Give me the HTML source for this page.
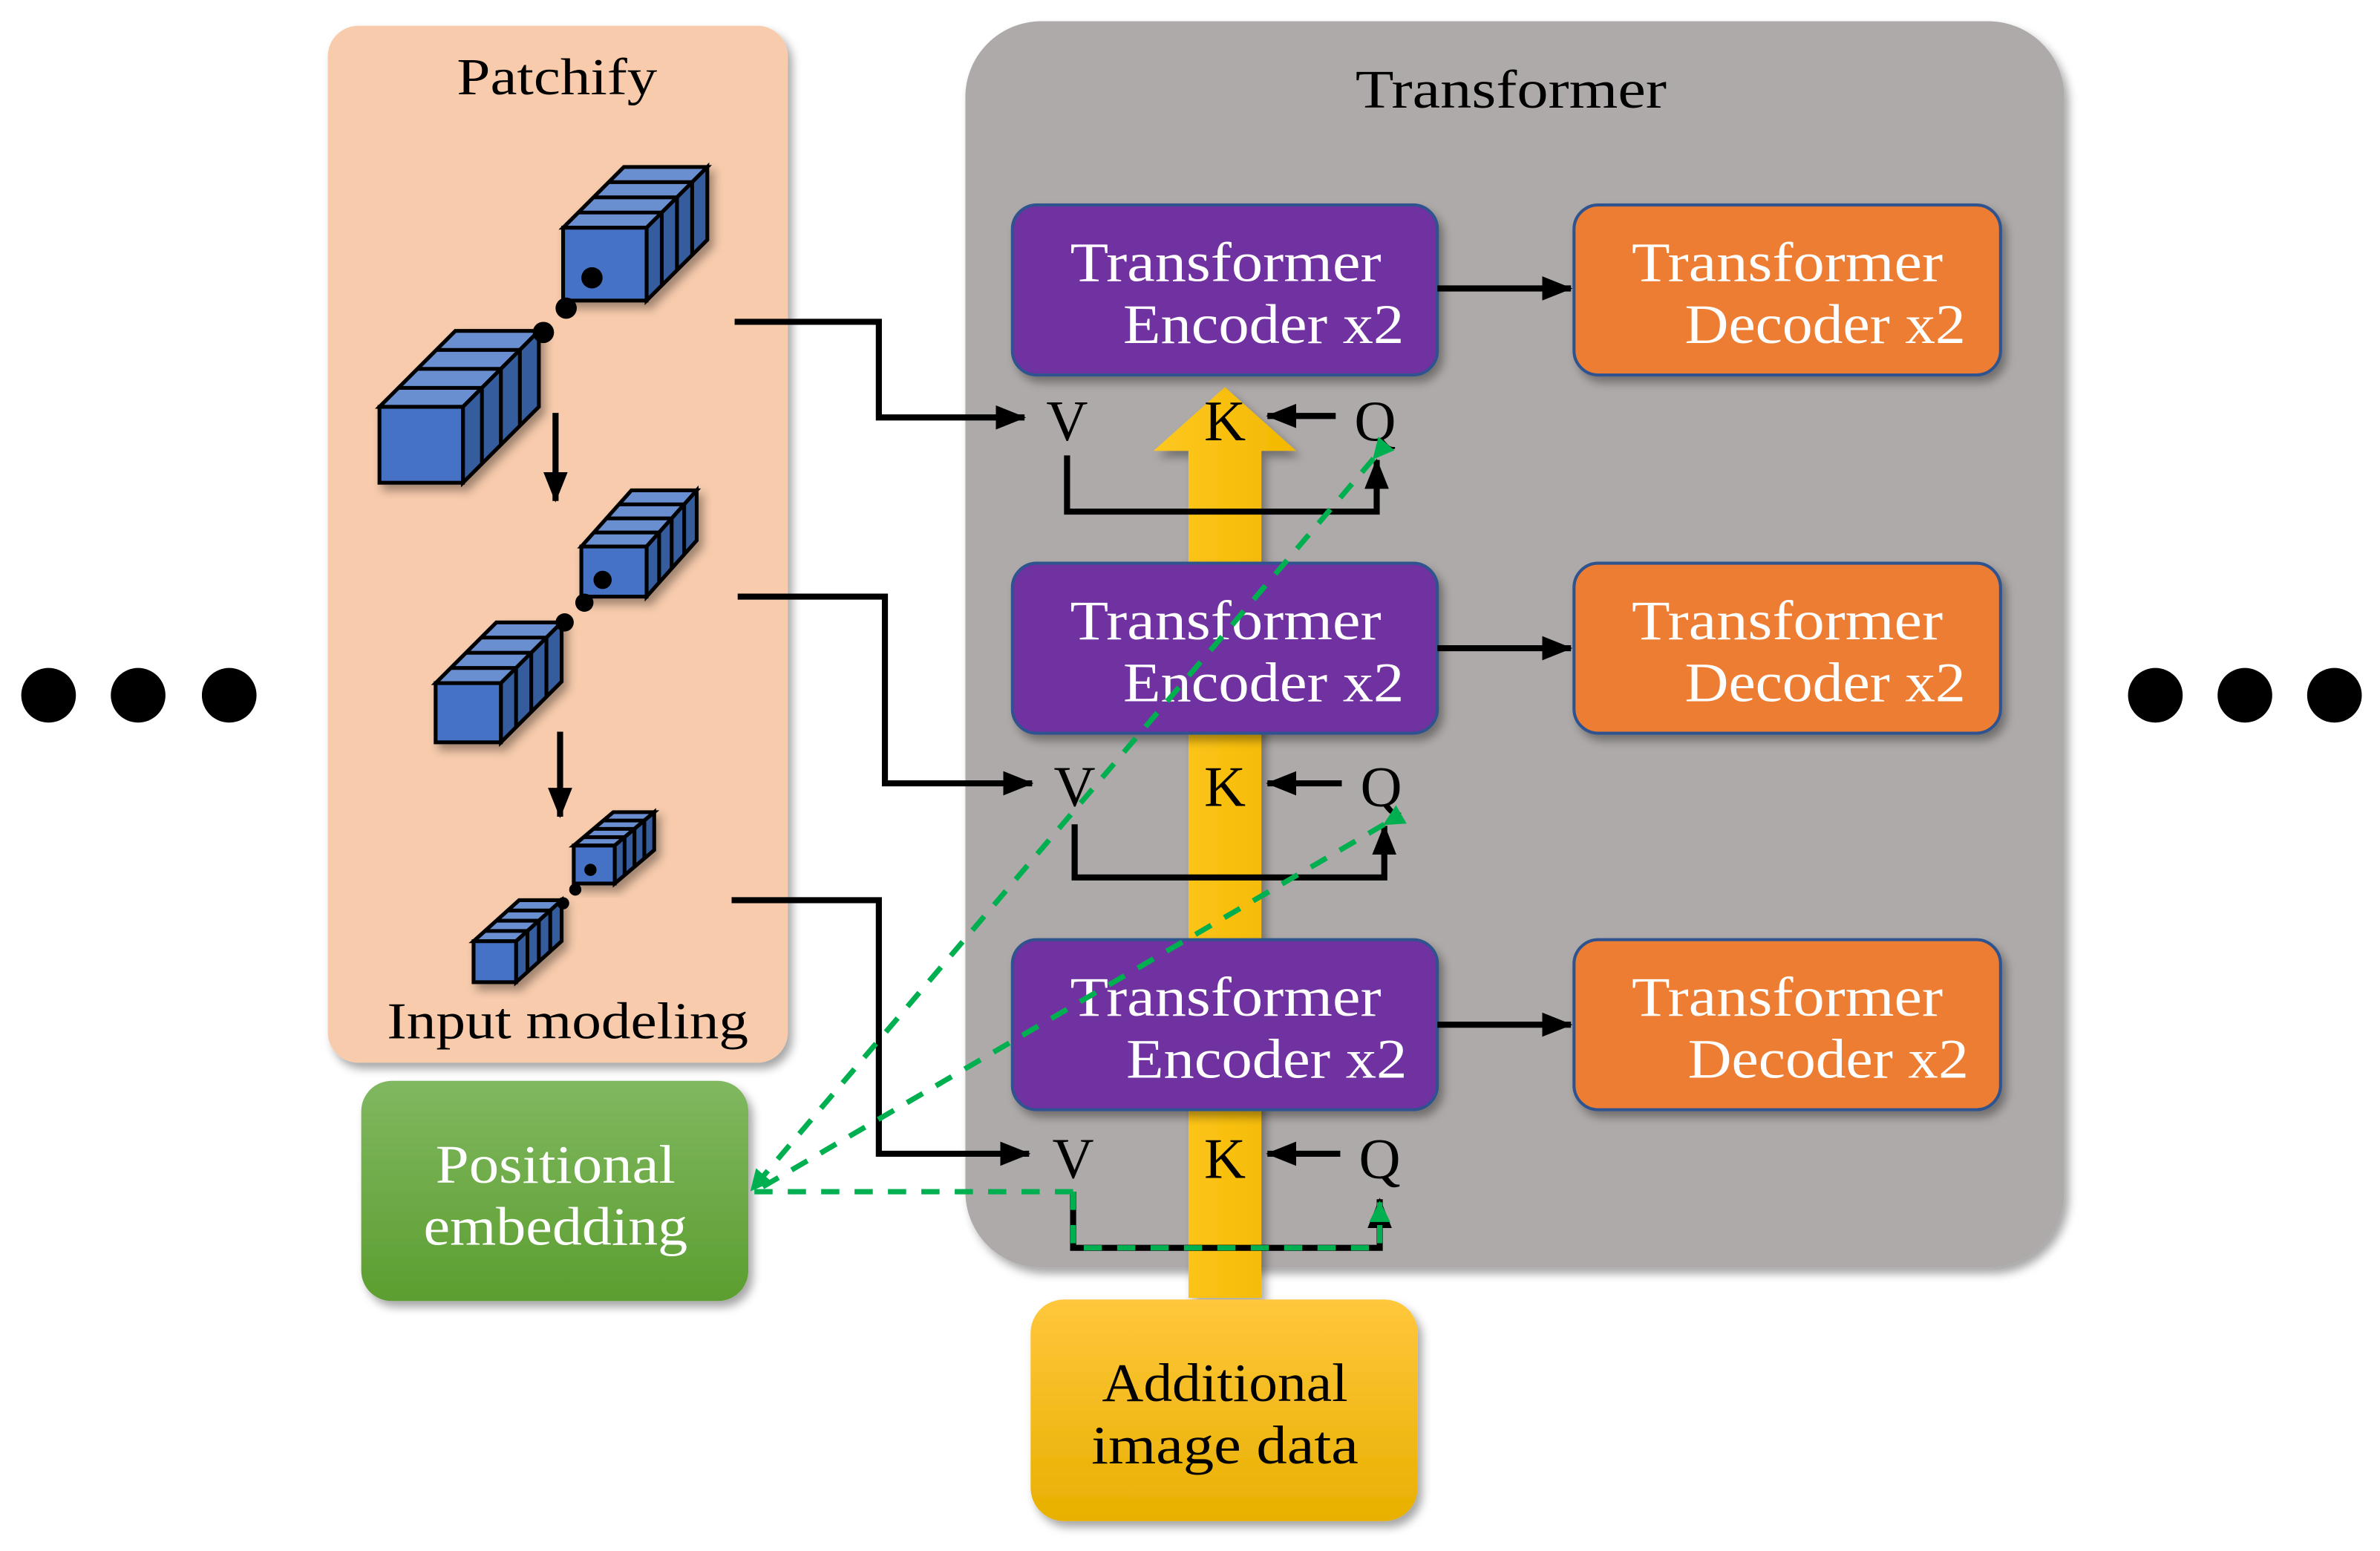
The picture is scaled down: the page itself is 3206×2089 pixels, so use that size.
<!DOCTYPE html>
<html><head><meta charset="utf-8"><style>
html,body{margin:0;padding:0;background:#fff}
svg{display:block}
text{font-family:"Liberation Serif",serif}
</style></head><body>
<svg id="s" width="3206" height="2089" viewBox="0 0 1568 1021.7" xmlns="http://www.w3.org/2000/svg">
<defs>
<filter id="sh" x="-10%" y="-10%" width="130%" height="130%"><feDropShadow dx="3" dy="4" stdDeviation="3" flood-color="#000" flood-opacity="0.35"/></filter>
<linearGradient id="yl" x1="0" y1="0" x2="1" y2="0"><stop offset="0" stop-color="#ffc820"/><stop offset="1" stop-color="#f2b800"/></linearGradient>
<linearGradient id="yb" x1="0" y1="0" x2="0" y2="1"><stop offset="0" stop-color="#ffc73c"/><stop offset="1" stop-color="#e8b000"/></linearGradient>
<linearGradient id="gb" x1="0" y1="0" x2="0" y2="1"><stop offset="0" stop-color="#80b860"/><stop offset="1" stop-color="#5c9e30"/></linearGradient>
<marker id="ab" markerWidth="20" markerHeight="16" refX="19" refY="8" orient="auto" markerUnits="userSpaceOnUse"><path d="M0,0 L20,8 L0,16z" fill="#000"/></marker>
<marker id="ag" markerWidth="14" markerHeight="14" refX="13" refY="7" orient="auto" markerUnits="userSpaceOnUse"><path d="M0,0 L14,7 L0,14z" fill="#00b050"/></marker>
</defs>

<g fill="#000"><circle cx="32" cy="458" r="18"/><circle cx="91" cy="458" r="18"/><circle cx="151" cy="458" r="18"/>
<circle cx="1420" cy="458" r="18"/><circle cx="1479" cy="458" r="18"/><circle cx="1538" cy="458" r="18"/></g>

<rect x="216" y="17" width="303" height="683" rx="20" fill="#f7cbac" filter="url(#sh)"/>
<rect x="636" y="14" width="724" height="821" rx="50" fill="#aeaaa9" filter="url(#sh)"/>
<text x="301" y="62" font-size="34" textLength="132" lengthAdjust="spacingAndGlyphs">Patchify</text>
<text x="255" y="684" font-size="34" textLength="238" lengthAdjust="spacingAndGlyphs">Input modeling</text>
<text x="893" y="71" font-size="36" textLength="205" lengthAdjust="spacingAndGlyphs">Transformer</text>

<g id="cubes"></g>

<line x1="366" y1="272" x2="366" y2="330" stroke="#000" stroke-width="4" marker-end="url(#ab)"/>
<line x1="369" y1="482" x2="369" y2="538" stroke="#000" stroke-width="4" marker-end="url(#ab)"/>

<path d="M783,855 L783,297 L760,297 L807,255 L854,297 L831,297 L831,855z" fill="url(#yl)" filter="url(#sh)"/>

<g stroke="#2f528f" stroke-width="2" filter="url(#sh)">
<rect x="667" y="135" width="280" height="112" rx="16" fill="#7030a0"/>
<rect x="667" y="371" width="280" height="112" rx="16" fill="#7030a0"/>
<rect x="667" y="619" width="280" height="112" rx="16" fill="#7030a0"/>
<rect x="1037" y="135" width="281" height="112" rx="16" fill="#ed7d31"/>
<rect x="1037" y="371" width="281" height="112" rx="16" fill="#ed7d31"/>
<rect x="1037" y="619" width="281" height="112" rx="16" fill="#ed7d31"/>
</g>
<g fill="#fff" font-size="37" lengthAdjust="spacingAndGlyphs">
<text x="705" y="185" textLength="205" lengthAdjust="spacingAndGlyphs">Transformer</text><text x="740" y="226" textLength="185" lengthAdjust="spacingAndGlyphs">Encoder x2</text>
<text x="705" y="421" textLength="205" lengthAdjust="spacingAndGlyphs">Transformer</text><text x="740" y="462" textLength="185" lengthAdjust="spacingAndGlyphs">Encoder x2</text>
<text x="705" y="669" textLength="205" lengthAdjust="spacingAndGlyphs">Transformer</text><text x="742" y="710" textLength="185" lengthAdjust="spacingAndGlyphs">Encoder x2</text>
<text x="1075" y="185" textLength="205" lengthAdjust="spacingAndGlyphs">Transformer</text><text x="1110" y="226" textLength="185" lengthAdjust="spacingAndGlyphs">Decoder x2</text>
<text x="1075" y="421" textLength="205" lengthAdjust="spacingAndGlyphs">Transformer</text><text x="1110" y="462" textLength="185" lengthAdjust="spacingAndGlyphs">Decoder x2</text>
<text x="1075" y="669" textLength="205" lengthAdjust="spacingAndGlyphs">Transformer</text><text x="1112" y="710" textLength="185" lengthAdjust="spacingAndGlyphs">Decoder x2</text>
</g>
<g stroke="#000" stroke-width="4" fill="none">
<line x1="947" y1="190" x2="1035" y2="190" marker-end="url(#ab)"/>
<line x1="947" y1="427" x2="1035" y2="427" marker-end="url(#ab)"/>
<line x1="947" y1="675" x2="1035" y2="675" marker-end="url(#ab)"/>
<polyline points="484,212 579,212 579,275 675,275" marker-end="url(#ab)"/>
<polyline points="486,393 583,393 583,516 680,516" marker-end="url(#ab)"/>
<polyline points="482,593 579,593 579,760 678,760" marker-end="url(#ab)"/>
<line x1="880" y1="274" x2="835" y2="274" marker-end="url(#ab)"/>
<line x1="884" y1="516" x2="835" y2="516" marker-end="url(#ab)"/>
<line x1="883" y1="760" x2="835" y2="760" marker-end="url(#ab)"/>
<polyline points="703,300 703,337 907,337 907,303" marker-end="url(#ab)"/>
<polyline points="708,543 708,578 912,578 912,544" marker-end="url(#ab)"/>
<polyline points="707,785 707,822 909,822 909,790" marker-end="url(#ab)"/>
</g>
<g font-size="38" fill="#000" text-anchor="middle">
<text x="703" y="290">V</text><text x="807" y="290">K</text><text x="906" y="290">Q</text>
<text x="708" y="531">V</text><text x="807" y="531">K</text><text x="910" y="531">Q</text>
<text x="707" y="776">V</text><text x="807" y="776">K</text><text x="909" y="776">Q</text>
</g>

<rect x="238" y="712" width="255" height="145" rx="20" fill="url(#gb)" filter="url(#sh)"/>
<text x="287" y="779" font-size="36" fill="#fff" textLength="158" lengthAdjust="spacingAndGlyphs">Positional</text>
<text x="279" y="820" font-size="36" fill="#fff" textLength="174" lengthAdjust="spacingAndGlyphs">embedding</text>
<rect x="679" y="856" width="255" height="146" rx="22" fill="url(#yb)" filter="url(#sh)"/>
<text x="726" y="923" font-size="36" textLength="162" lengthAdjust="spacingAndGlyphs">Additional</text>
<text x="719" y="964" font-size="36" textLength="176" lengthAdjust="spacingAndGlyphs">image data</text>

<g stroke="#00b050" stroke-width="3.5" fill="none" stroke-dasharray="12,10">
<line x1="905" y1="302" x2="495" y2="784" marker-start="url(#ag)" marker-end="url(#ag)"/>
<line x1="912" y1="543" x2="497" y2="785" marker-start="url(#ag)"/>
<line x1="707" y1="785" x2="497" y2="785"/>
<polyline points="707,785 707,822 909,822 909,792" marker-end="url(#ag)"/>
</g>
</svg>
<script>
(function(){
var g=document.getElementById('cubes'),h='';
function grp(x,y,w,hh,dx,dy,n){
 var s='',sw=2.5;
 s+='<polygon points="'+x+','+y+' '+(x+w)+','+y+' '+(x+w+dx)+','+(y-dy)+' '+(x+dx)+','+(y-dy)+'" fill="#6a8fd0" stroke="#000" stroke-width="'+sw+'"/>';
 s+='<polygon points="'+(x+w)+','+y+' '+(x+w+dx)+','+(y-dy)+' '+(x+w+dx)+','+(y+hh-dy)+' '+(x+w)+','+(y+hh)+'" fill="#365d9e" stroke="#000" stroke-width="'+sw+'"/>';
 for(var i=1;i<n;i++){var f=i/n;
  s+='<line x1="'+(x+f*dx)+'" y1="'+(y-f*dy)+'" x2="'+(x+w+f*dx)+'" y2="'+(y-f*dy)+'" stroke="#000" stroke-width="'+sw+'"/>';
  s+='<line x1="'+(x+w+f*dx)+'" y1="'+(y-f*dy)+'" x2="'+(x+w+f*dx)+'" y2="'+(y+hh-f*dy)+'" stroke="#000" stroke-width="'+sw+'"/>';}
 s+='<rect x="'+x+'" y="'+y+'" width="'+w+'" height="'+hh+'" fill="#4472c4" stroke="#000" stroke-width="'+sw+'"/>';
 return '<g filter="url(#sh)">'+s+'</g>';
}
h+=grp(371,150,55,48,40,40,4);
h+=grp(250,268,55,50,50,50,4);
h+=grp(383,360,43,33,33,37,4);
h+=grp(287,450,43,39,40,40,4);
h+=grp(378,557,27,25,26,22,4);
h+=grp(312,620,28,27,30,27,4);
h+='<g fill="#000"><circle cx="390" cy="183" r="7"/><circle cx="373" cy="203" r="7"/><circle cx="358" cy="219" r="7"/>'+
'<circle cx="397" cy="382" r="6"/><circle cx="385" cy="397" r="6"/><circle cx="372" cy="410" r="6"/>'+
'<circle cx="389" cy="573" r="4"/><circle cx="379" cy="586" r="4"/><circle cx="371" cy="595" r="4"/></g>';
g.innerHTML=h;
})();
</script>
</body></html>
